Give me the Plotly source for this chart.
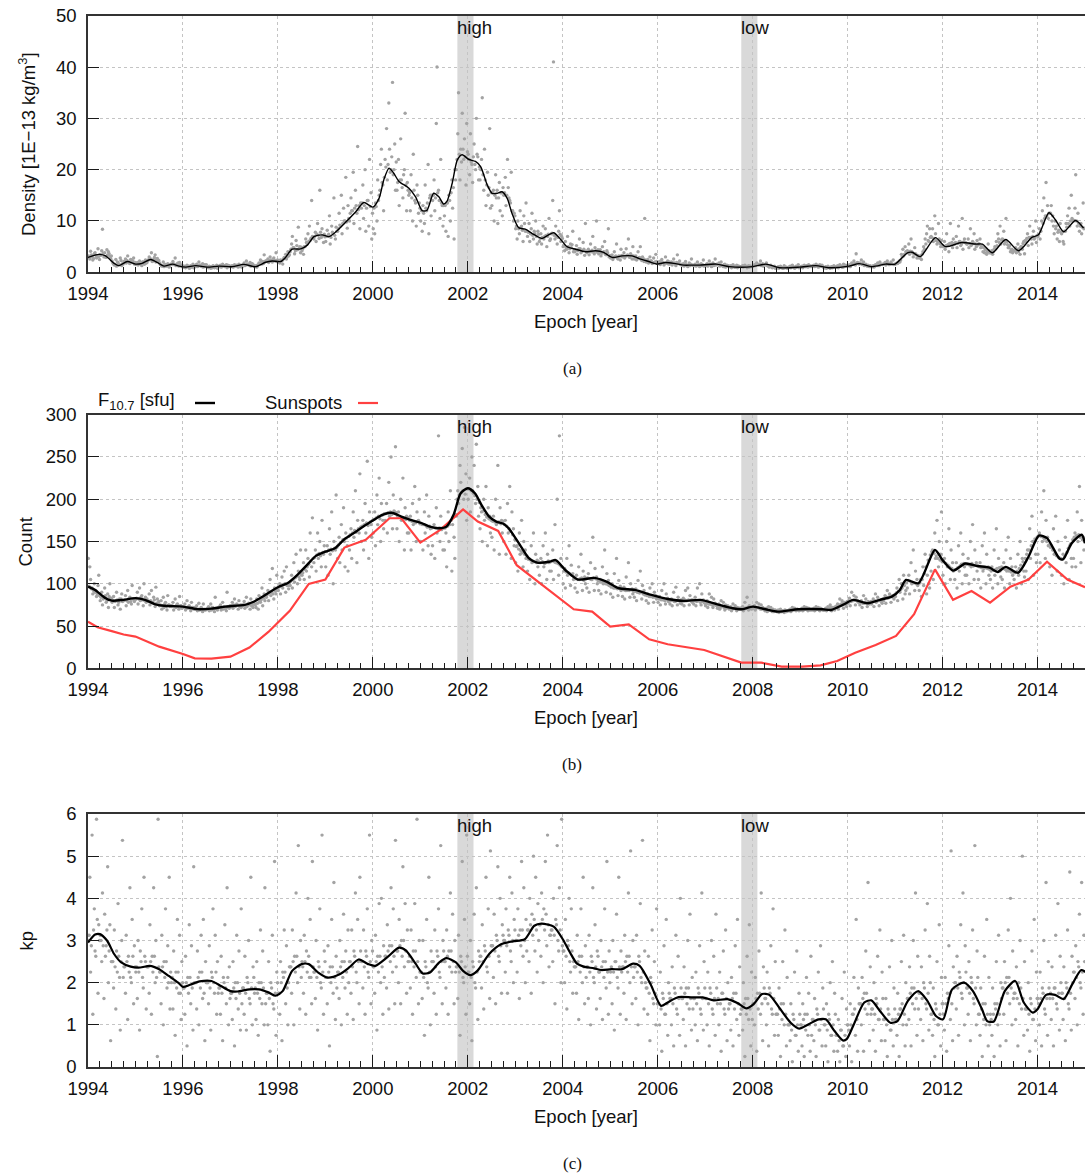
import plotly.graph_objects as go

# ---------------------------------------------------------------------------
# Data
# ---------------------------------------------------------------------------
EPOCH_START = 1994.0
EPOCH_END = 2015.0
BLOCK = 0.25  # years covered by each row of daily samples below
# day slot (of 16 per block) taken by each sample of a row
SLOT_ORDER = [0, 2, 3, 5, 6, 8, 10, 11, 13, 14, 1, 4, 7, 9, 12, 15]

# Daily thermospheric density [1E-13 kg/m^3], one row per quarter year
density_daily = [
    [3.2, 2.6, 4.1, 3.0, 2.4, 3.6, 3.3, 2.8, 4.6, 3.1, 2.9, 3.4, 2.7, 3.8, 3.1, 2.5],
    [3.5, 4.2, 8.4, 3.0, 3.8, 2.9, 3.4, 4.0, 3.1, 2.7, 3.3, 3.7, 3.0, 4.4, 3.6, 3.2],
    [2.2, 1.6, 1.4, 2.5, 1.2, 1.9, 1.5, 2.8, 1.3, 1.7, 1.8, 1.5, 2.0, 1.4, 2.3, 1.6],
    [2.1, 2.6, 1.8, 3.2, 2.0, 1.7, 2.4, 1.9, 2.8, 1.6, 2.0, 2.3, 1.8, 2.5, 2.2, 1.9],
    [1.5, 1.9, 1.4, 2.2, 1.7, 1.3, 2.0, 1.6, 2.4, 1.8, 1.7, 1.8, 1.5, 2.0, 1.6, 1.9],
    [2.3, 3.0, 2.6, 3.8, 2.1, 2.5, 3.4, 2.0, 2.7, 2.2, 2.4, 2.6, 2.2, 2.9, 2.5, 2.3],
    [1.8, 1.4, 1.2, 2.0, 1.1, 1.5, 1.3, 1.7, 1.0, 1.4, 1.5, 1.3, 1.6, 1.2, 1.4, 1.6],
    [1.6, 2.1, 1.5, 2.8, 1.3, 1.7, 1.2, 1.9, 1.4, 1.1, 1.5, 1.6, 1.4, 1.8, 1.5, 1.3],
    [1.0, 1.2, 0.9, 1.4, 1.1, 0.8, 1.3, 1.0, 1.6, 0.9, 1.0, 1.1, 1.2, 0.9, 1.1, 1.0],
    [1.3, 1.6, 1.1, 2.0, 1.4, 1.2, 1.7, 1.0, 1.5, 1.2, 1.3, 1.2, 1.4, 1.1, 1.3, 1.5],
    [1.0, 0.9, 1.2, 0.8, 1.1, 1.3, 0.9, 1.0, 1.4, 0.8, 1.0, 1.1, 0.9, 1.2, 1.0, 1.1],
    [1.2, 1.4, 1.0, 1.6, 1.3, 1.1, 1.5, 0.9, 1.2, 1.3, 1.2, 1.1, 1.3, 1.2, 1.4, 1.1],
    [1.1, 1.3, 1.0, 1.5, 1.2, 1.4, 1.0, 1.6, 1.3, 1.1, 1.2, 1.1, 1.3, 1.2, 1.4, 1.0],
    [1.5, 1.8, 1.3, 2.2, 1.6, 1.4, 1.9, 1.2, 1.7, 1.5, 1.5, 1.4, 1.6, 1.5, 1.7, 1.3],
    [1.1, 1.3, 1.0, 1.5, 1.8, 2.4, 1.6, 2.1, 3.4, 2.0, 1.2, 1.4, 1.6, 1.9, 1.7, 2.2],
    [2.2, 2.6, 1.9, 3.0, 2.4, 2.0, 2.8, 2.3, 3.8, 2.1, 2.2, 2.3, 2.1, 2.5, 2.2, 2.4],
    [2.0, 1.8, 2.4, 2.2, 1.6, 2.9, 3.5, 2.6, 4.0, 3.2, 2.1, 2.3, 2.6, 2.8, 3.0, 3.4],
    [4.0, 5.5, 7.0, 4.8, 3.6, 6.2, 4.4, 8.8, 5.0, 3.8, 4.5, 4.8, 4.2, 5.2, 4.6, 4.9],
    [4.2, 3.5, 5.0, 6.5, 5.8, 7.5, 9.0, 6.2, 14.0, 7.0, 4.6, 5.0, 5.5, 6.0, 6.6, 6.9],
    [6.5, 7.8, 6.0, 9.5, 7.2, 16.0, 6.8, 8.5, 5.8, 7.4, 7.0, 7.4, 6.6, 7.8, 7.1, 6.9],
    [6.0, 8.2, 7.0, 11.0, 5.5, 9.0, 7.5, 14.5, 6.5, 8.8, 7.0, 7.4, 6.8, 7.8, 7.2, 8.0],
    [8.0, 11.5, 9.2, 15.0, 7.5, 12.5, 10.0, 18.5, 8.6, 13.0, 8.5, 9.0, 9.5, 10.0, 9.8, 10.5],
    [10.0, 14.5, 12.0, 19.5, 9.5, 16.0, 11.5, 24.5, 13.0, 8.5, 11.5, 12.0, 12.5, 13.0, 12.2, 13.5],
    [12.5, 17.0, 10.5, 20.0, 8.0, 14.0, 9.0, 22.0, 15.5, 6.5, 13.5, 13.0, 12.5, 14.0, 12.8, 11.5],
    [8.5, 7.5, 13.5, 10.0, 18.0, 15.0, 21.0, 24.0, 17.0, 12.0, 12.5, 12.8, 14.0, 16.0, 17.5, 18.5],
    [22.0, 28.0, 18.0, 33.0, 24.0, 20.0, 37.0, 19.0, 25.0, 16.0, 20.5, 21.0, 19.5, 22.5, 20.0, 21.5],
    [16.0, 22.0, 13.0, 26.0, 18.0, 14.5, 20.0, 31.0, 12.0, 17.5, 17.5, 18.0, 16.5, 19.0, 17.0, 16.0],
    [15.0, 12.0, 19.0, 10.0, 23.0, 14.0, 9.0, 17.0, 11.5, 13.5, 15.5, 14.5, 16.0, 13.5, 15.0, 12.5],
    [10.0, 8.0, 13.0, 9.5, 17.0, 12.0, 21.0, 7.5, 15.0, 11.0, 12.0, 11.5, 12.5, 13.5, 14.5, 15.0],
    [14.0, 18.0, 12.0, 29.0, 40.0, 16.0, 10.5, 22.0, 13.0, 9.0, 15.0, 14.5, 15.5, 14.0, 13.5, 13.0],
    [11.0, 8.0, 13.5, 7.0, 15.0, 10.0, 18.0, 12.5, 6.5, 20.0, 13.0, 13.5, 14.0, 15.5, 16.5, 18.0],
    [20.0, 27.0, 35.0, 18.0, 24.0, 31.0, 22.0, 26.0, 17.0, 29.0, 22.0, 23.0, 21.5, 24.0, 22.5, 23.5],
    [23.0, 19.0, 27.0, 21.0, 17.5, 25.0, 20.0, 30.0, 22.5, 18.0, 22.0, 21.5, 22.5, 21.0, 23.0, 20.5],
    [18.0, 22.0, 34.0, 16.0, 24.0, 13.0, 19.5, 15.0, 28.0, 12.5, 20.0, 19.0, 18.0, 17.0, 16.5, 15.5],
    [13.0, 16.0, 10.0, 19.0, 14.5, 9.5, 17.5, 12.0, 15.5, 11.0, 15.5, 15.0, 16.0, 14.5, 15.5, 16.5],
    [15.0, 18.5, 13.0, 22.0, 16.5, 14.0, 19.5, 12.0, 10.0, 11.5, 15.5, 15.0, 14.5, 13.5, 12.0, 11.0],
    [8.5, 6.5, 10.0, 7.5, 12.0, 9.0, 6.0, 11.0, 8.0, 13.5, 9.0, 8.5, 8.8, 8.2, 9.5, 8.0],
    [7.0, 9.5, 6.0, 8.5, 11.5, 6.5, 7.5, 10.0, 5.5, 8.0, 7.8, 7.5, 7.2, 8.0, 7.0, 7.4],
    [6.0, 7.5, 5.5, 9.0, 6.5, 8.5, 5.0, 7.0, 10.5, 6.2, 6.6, 6.8, 7.0, 7.2, 7.4, 6.5],
    [7.5, 14.0, 41.0, 6.5, 9.0, 5.5, 8.0, 12.0, 6.0, 7.0, 7.6, 7.2, 7.0, 6.8, 7.4, 6.6],
    [5.0, 4.2, 6.0, 4.5, 7.0, 3.8, 5.5, 4.8, 8.0, 4.0, 5.2, 4.8, 5.0, 4.6, 5.4, 4.4],
    [4.0, 5.2, 3.5, 4.6, 6.5, 3.8, 4.2, 5.8, 3.3, 9.5, 4.4, 4.2, 4.6, 4.0, 4.5, 4.1],
    [3.8, 4.5, 3.4, 5.5, 4.0, 7.0, 3.6, 4.8, 10.0, 3.9, 4.1, 4.0, 4.3, 3.9, 4.2, 4.4],
    [3.6, 4.4, 3.2, 5.0, 3.9, 6.0, 3.4, 4.2, 8.5, 3.0, 3.9, 3.7, 4.0, 3.5, 3.8, 3.3],
    [2.8, 3.4, 2.5, 4.0, 3.0, 5.5, 2.6, 3.2, 2.4, 4.5, 3.0, 2.9, 3.2, 2.8, 3.1, 3.3],
    [3.0, 3.8, 2.8, 4.6, 3.3, 6.5, 2.9, 3.6, 2.6, 5.0, 3.2, 3.1, 3.4, 3.0, 3.3, 3.2],
    [2.6, 3.2, 2.4, 4.0, 2.8, 5.0, 2.3, 3.0, 2.1, 10.5, 2.8, 2.6, 2.9, 2.5, 2.7, 2.4],
    [2.0, 2.5, 1.8, 3.0, 2.2, 1.7, 2.8, 1.9, 3.5, 2.1, 2.1, 1.9, 2.2, 1.8, 2.0, 1.7],
    [1.7, 2.1, 1.5, 2.5, 1.9, 1.4, 3.0, 1.8, 2.2, 1.6, 1.7, 1.8, 1.9, 1.7, 1.8, 2.0],
    [1.6, 2.0, 1.4, 2.6, 1.8, 1.3, 3.4, 1.7, 2.2, 1.5, 1.7, 1.8, 1.6, 1.9, 1.7, 1.6],
    [1.4, 1.7, 1.2, 2.1, 1.5, 1.1, 1.8, 1.3, 2.6, 1.4, 1.4, 1.5, 1.3, 1.4, 1.6, 1.4],
    [1.3, 1.6, 1.2, 2.0, 1.4, 1.1, 1.7, 1.3, 2.4, 1.2, 1.4, 1.3, 1.5, 1.4, 1.5, 1.3],
    [1.4, 1.7, 1.2, 2.2, 1.5, 1.1, 1.8, 1.3, 2.6, 1.4, 1.5, 1.4, 1.6, 1.5, 1.4, 1.6],
    [1.5, 1.8, 1.2, 2.0, 1.3, 1.1, 1.6, 1.0, 1.4, 1.2, 1.5, 1.4, 1.3, 1.5, 1.2, 1.3],
    [1.1, 1.3, 0.9, 1.5, 1.2, 1.0, 1.4, 0.9, 1.2, 1.1, 1.1, 1.2, 1.0, 1.1, 1.2, 1.1],
    [1.1, 1.3, 1.0, 1.4, 1.2, 0.9, 1.3, 1.0, 1.2, 1.1, 1.1, 1.2, 1.1, 1.0, 1.2, 1.1],
    [1.2, 1.5, 1.3, 1.8, 1.6, 1.4, 2.2, 1.3, 1.7, 1.2, 1.3, 1.4, 1.5, 1.6, 1.5, 1.4],
    [1.5, 1.8, 1.3, 1.2, 1.0, 1.4, 0.9, 1.1, 1.2, 0.8, 1.5, 1.4, 1.2, 1.1, 1.0, 0.9],
    [0.9, 1.1, 0.8, 1.2, 1.0, 0.8, 1.3, 0.9, 1.0, 0.8, 0.9, 1.0, 0.9, 0.8, 1.0, 0.9],
    [1.0, 1.2, 0.9, 1.4, 1.1, 0.8, 1.2, 1.0, 1.5, 0.9, 1.0, 1.1, 1.0, 0.9, 1.1, 1.0],
    [1.0, 1.2, 0.9, 1.4, 1.1, 1.3, 1.0, 1.5, 1.2, 1.1, 1.1, 1.2, 1.1, 1.2, 1.3, 1.2],
    [1.2, 1.4, 1.1, 1.6, 1.3, 1.0, 1.5, 1.2, 1.4, 1.1, 1.3, 1.2, 1.3, 1.1, 1.2, 1.0],
    [0.9, 1.1, 0.8, 1.2, 1.0, 0.8, 1.1, 0.9, 1.3, 1.0, 0.9, 1.0, 0.9, 1.0, 1.1, 1.0],
    [1.0, 1.3, 0.9, 1.5, 1.2, 1.0, 1.6, 1.1, 1.4, 1.2, 1.1, 1.1, 1.2, 1.0, 1.2, 1.2],
    [1.2, 1.5, 1.1, 1.8, 1.6, 2.2, 1.4, 3.6, 1.9, 1.7, 1.3, 1.4, 1.6, 1.7, 1.8, 1.6],
    [1.8, 2.4, 1.5, 2.0, 1.3, 1.6, 1.2, 1.4, 1.1, 1.3, 1.7, 1.6, 1.4, 1.3, 1.2, 1.1],
    [1.1, 1.3, 1.0, 1.5, 1.4, 1.8, 1.3, 2.0, 1.6, 1.5, 1.1, 1.2, 1.3, 1.4, 1.5, 1.6],
    [1.6, 1.9, 1.4, 2.2, 1.7, 1.5, 2.0, 1.6, 2.4, 1.5, 1.6, 1.7, 1.5, 1.7, 1.6, 1.6],
    [1.6, 1.8, 1.7, 2.2, 2.0, 3.5, 4.5, 3.2, 5.0, 4.0, 1.7, 1.9, 2.4, 3.0, 3.5, 3.8],
    [4.2, 5.5, 3.5, 6.5, 4.0, 3.0, 4.8, 3.6, 2.8, 3.3, 3.9, 4.1, 3.8, 3.6, 3.4, 3.2],
    [2.8, 3.2, 2.5, 4.0, 5.0, 6.5, 7.5, 9.0, 6.0, 8.5, 3.0, 3.5, 4.5, 5.5, 6.2, 6.8],
    [7.0, 8.5, 6.0, 11.0, 7.5, 5.5, 9.5, 6.5, 5.0, 6.2, 6.8, 6.6, 6.2, 6.0, 5.6, 5.3],
    [5.0, 6.0, 4.5, 7.5, 5.3, 4.0, 9.5, 5.5, 4.8, 6.5, 5.0, 5.2, 5.4, 5.6, 5.8, 5.6],
    [5.5, 7.0, 4.8, 9.0, 6.0, 5.2, 10.5, 4.5, 6.5, 5.8, 5.8, 5.6, 6.0, 5.5, 5.9, 5.7],
    [5.5, 6.5, 4.8, 8.5, 5.2, 6.0, 7.5, 4.5, 5.0, 6.2, 5.5, 5.6, 5.4, 5.7, 5.5, 5.3],
    [5.5, 6.5, 4.8, 5.0, 4.0, 3.8, 4.5, 3.5, 5.5, 4.2, 5.5, 5.2, 4.8, 4.4, 4.0, 3.8],
    [3.8, 4.2, 3.5, 4.5, 5.0, 6.0, 7.5, 6.5, 9.0, 5.5, 3.8, 4.0, 4.6, 5.2, 5.8, 6.3],
    [6.5, 8.0, 5.5, 10.5, 6.0, 4.8, 5.2, 4.0, 4.5, 3.8, 6.4, 6.0, 5.4, 4.8, 4.4, 4.2],
    [4.2, 4.8, 3.8, 5.5, 4.0, 3.5, 5.0, 4.5, 6.0, 3.6, 4.2, 4.4, 4.6, 5.0, 5.6, 6.2],
    [6.0, 7.5, 5.2, 9.0, 6.8, 5.5, 8.0, 6.5, 10.0, 5.8, 6.6, 6.8, 6.5, 7.0, 6.7, 7.2],
    [7.0, 8.5, 6.5, 10.0, 12.0, 14.5, 11.0, 17.5, 13.0, 10.5, 7.4, 8.0, 9.5, 10.5, 11.0, 11.5],
    [11.5, 13.0, 10.0, 9.0, 7.5, 8.5, 6.5, 7.8, 6.0, 9.5, 11.5, 11.0, 10.0, 9.0, 8.2, 7.8],
    [7.5, 6.0, 5.5, 8.0, 9.5, 11.0, 12.5, 9.0, 15.0, 10.5, 7.9, 8.0, 8.8, 9.5, 10.0, 10.2],
    [10.0, 12.5, 19.0, 9.0, 11.5, 8.0, 9.5, 7.5, 13.5, 8.5, 10.1, 10.0, 9.5, 9.0, 8.8, 8.6],
]

# Smoothed density
density_epoch = [
    1994.0, 1994.23, 1994.37, 1994.55, 1994.65, 1994.83, 1995.0, 1995.14, 1995.32, 1995.49,
    1995.6, 1995.78, 1995.92, 1996.06, 1996.27, 1996.51, 1996.76, 1997.04, 1997.28, 1997.53,
    1997.74, 1997.88, 1998.06, 1998.16, 1998.3, 1998.48, 1998.62, 1998.76, 1998.93, 1999.07,
    1999.21, 1999.42, 1999.64, 1999.81, 2000.0, 2000.13, 2000.23, 2000.34, 2000.44, 2000.55,
    2000.76, 2000.9, 2001.04, 2001.14, 2001.28, 2001.39, 2001.49, 2001.56, 2001.67, 2001.78,
    2001.88, 2002.02, 2002.16, 2002.27, 2002.41, 2002.51, 2002.62, 2002.72, 2002.83, 2002.93,
    2003.07, 2003.21, 2003.35, 2003.56, 2003.7, 2003.81, 2003.92, 2004.09, 2004.27, 2004.48,
    2004.69, 2004.86, 2005.04, 2005.25, 2005.46, 2005.6, 2005.81, 2005.99, 2006.16, 2006.34,
    2006.55, 2006.72, 2006.88, 2007.23, 2007.51, 2008.0, 2008.28, 2008.56, 2008.98, 2009.33,
    2009.6, 2010.03, 2010.24, 2010.52, 2010.8, 2011.0, 2011.26, 2011.36, 2011.53, 2011.85,
    2012.06, 2012.4, 2012.7, 2012.84, 2013.05, 2013.33, 2013.6, 2013.88, 2014.02, 2014.24,
    2014.38, 2014.55, 2014.8, 2014.97,
]
density_smooth = [
    2.9, 3.5, 3.2, 1.75, 1.3, 2.1, 1.6, 1.75, 2.5, 1.75,
    1.2, 1.6, 1.2, 1.0, 1.3, 1.0, 1.2, 1.1, 1.55, 1.1,
    1.95, 2.2, 2.1, 2.9, 4.5, 4.55, 5.3, 6.95, 7.3, 6.95,
    7.8, 9.7, 11.8, 13.6, 12.7, 14.4, 18.0, 20.3, 19.3, 17.7,
    16.4, 14.7, 12.0, 12.1, 15.4, 14.7, 13.3, 13.8, 17.3, 21.9,
    22.9, 22.0, 21.6, 20.6, 17.0, 15.4, 15.4, 15.7, 14.4, 11.5,
    8.7, 8.4, 7.6, 6.6, 7.3, 7.7, 6.8, 5.0, 4.5, 4.0,
    4.2, 3.9, 2.9, 3.2, 3.2, 2.7, 2.1, 1.6, 1.9, 1.75,
    1.4, 1.4, 1.4, 1.6, 1.1, 1.1, 1.6, 0.9, 1.0, 1.3,
    0.9, 1.2, 1.7, 1.1, 1.6, 1.6, 3.8, 3.9, 3.05, 6.75,
    5.0, 5.8, 5.5, 5.5, 3.8, 6.4, 4.2, 6.8, 7.3, 11.6,
    10.2, 7.9, 10.1, 8.6,
]

# Daily F10.7 solar flux [sfu], one row per quarter year
f107_daily = [
    [130, 120, 105, 95, 88, 100, 92, 85, 98, 110, 97, 94, 92, 90, 88, 86],
    [80, 90, 75, 85, 95, 78, 88, 72, 100, 82, 84, 82, 86, 80, 85, 83],
    [78, 85, 72, 80, 90, 75, 82, 70, 88, 79, 80, 79, 81, 78, 82, 80],
    [80, 86, 74, 92, 78, 84, 76, 98, 82, 79, 81, 80, 83, 79, 82, 81],
    [82, 90, 76, 95, 80, 86, 74, 100, 84, 78, 83, 82, 84, 81, 80, 82],
    [80, 88, 75, 92, 78, 84, 73, 96, 82, 77, 79, 80, 78, 81, 77, 79],
    [74, 80, 70, 84, 72, 78, 69, 86, 75, 73, 75, 74, 76, 73, 75, 74],
    [73, 78, 69, 82, 72, 76, 70, 85, 74, 71, 74, 73, 75, 73, 74, 72],
    [72, 76, 69, 80, 71, 74, 68, 78, 72, 70, 73, 72, 73, 71, 72, 72],
    [70, 74, 68, 77, 69, 72, 67, 76, 70, 69, 71, 70, 70, 71, 69, 70],
    [70, 73, 68, 76, 69, 72, 67, 84, 71, 69, 71, 70, 72, 70, 71, 72],
    [72, 75, 69, 78, 70, 73, 68, 90, 72, 71, 73, 72, 73, 71, 73, 74],
    [74, 78, 71, 82, 73, 76, 70, 80, 75, 72, 74, 75, 74, 75, 73, 75],
    [74, 79, 71, 84, 73, 77, 70, 82, 75, 72, 75, 74, 76, 75, 74, 77],
    [76, 72, 82, 70, 86, 78, 95, 74, 88, 80, 75, 77, 79, 81, 83, 85],
    [84, 92, 80, 105, 86, 118, 82, 95, 88, 110, 87, 89, 90, 88, 91, 93],
    [92, 100, 88, 108, 95, 115, 90, 120, 98, 94, 96, 97, 99, 100, 98, 101],
    [98, 110, 95, 125, 102, 135, 100, 115, 105, 140, 103, 105, 107, 109, 108, 111],
    [110, 125, 105, 140, 115, 130, 108, 160, 120, 178, 113, 117, 120, 123, 127, 130],
    [125, 140, 115, 160, 130, 150, 120, 175, 135, 145, 131, 134, 136, 133, 137, 138],
    [120, 145, 110, 165, 135, 185, 100, 150, 140, 205, 138, 140, 141, 139, 142, 143],
    [130, 155, 125, 170, 140, 190, 120, 160, 145, 115, 146, 149, 152, 150, 154, 156],
    [140, 165, 130, 185, 155, 210, 125, 175, 160, 230, 158, 160, 163, 161, 165, 167],
    [150, 175, 140, 195, 160, 245, 130, 185, 170, 155, 168, 170, 172, 169, 173, 175],
    [160, 185, 145, 205, 170, 225, 150, 195, 175, 165, 176, 178, 180, 177, 181, 183],
    [175, 195, 160, 220, 180, 250, 165, 205, 185, 262, 183, 184, 185, 182, 186, 184],
    [165, 185, 150, 200, 175, 225, 140, 190, 180, 160, 180, 179, 178, 177, 176, 178],
    [160, 180, 140, 195, 170, 215, 150, 185, 175, 200, 175, 174, 173, 172, 174, 171],
    [150, 170, 140, 185, 160, 205, 145, 180, 165, 135, 171, 170, 169, 167, 168, 166],
    [145, 170, 130, 190, 160, 275, 150, 180, 165, 140, 167, 166, 165, 166, 164, 166],
    [140, 160, 120, 185, 150, 210, 115, 170, 155, 130, 166, 168, 170, 175, 179, 182],
    [180, 210, 195, 240, 220, 260, 200, 285, 230, 175, 200, 205, 208, 210, 206, 212],
    [200, 225, 185, 250, 210, 240, 195, 265, 215, 180, 212, 210, 207, 204, 200, 196],
    [165, 185, 150, 200, 175, 215, 145, 190, 180, 160, 190, 186, 182, 179, 177, 175],
    [155, 180, 140, 200, 170, 240, 135, 190, 175, 160, 174, 173, 172, 173, 171, 174],
    [150, 175, 135, 195, 160, 215, 130, 185, 165, 145, 170, 168, 165, 162, 158, 152],
    [125, 145, 115, 160, 135, 175, 120, 150, 140, 130, 144, 141, 139, 137, 135, 133],
    [115, 130, 105, 145, 125, 160, 100, 135, 128, 120, 129, 128, 127, 126, 125, 126],
    [110, 130, 100, 145, 120, 160, 105, 135, 125, 115, 125, 126, 124, 125, 127, 126],
    [115, 140, 105, 170, 125, 200, 110, 275, 130, 120, 127, 126, 125, 124, 122, 120],
    [100, 118, 95, 130, 110, 145, 98, 122, 112, 105, 115, 114, 113, 112, 110, 108],
    [95, 110, 90, 120, 105, 135, 92, 115, 108, 100, 106, 105, 106, 107, 104, 106],
    [95, 112, 90, 125, 105, 155, 92, 118, 108, 100, 107, 106, 105, 107, 106, 104],
    [92, 105, 88, 120, 100, 140, 90, 112, 104, 98, 103, 102, 101, 100, 99, 98],
    [88, 100, 84, 112, 95, 130, 86, 104, 97, 92, 96, 95, 96, 94, 95, 94],
    [85, 96, 82, 108, 92, 125, 84, 100, 94, 88, 93, 92, 93, 92, 93, 91],
    [84, 94, 80, 104, 90, 115, 82, 98, 92, 87, 91, 90, 89, 90, 88, 87],
    [80, 88, 77, 95, 85, 100, 78, 90, 86, 82, 86, 85, 86, 84, 84, 83],
    [78, 85, 75, 92, 81, 100, 76, 88, 83, 79, 82, 81, 82, 80, 81, 80],
    [76, 82, 74, 90, 79, 96, 75, 84, 80, 77, 80, 80, 79, 80, 80, 81],
    [76, 83, 74, 92, 80, 95, 75, 86, 81, 78, 80, 81, 80, 81, 80, 81],
    [76, 84, 74, 95, 80, 100, 75, 88, 81, 78, 80, 79, 80, 78, 79, 77],
    [74, 80, 72, 88, 76, 84, 72, 82, 77, 75, 77, 76, 76, 75, 75, 74],
    [71, 76, 70, 80, 73, 78, 69, 75, 72, 74, 73, 72, 73, 72, 71, 72],
    [70, 73, 68, 76, 71, 74, 68, 72, 70, 71, 71, 70, 71, 70, 70, 71],
    [70, 73, 68, 78, 71, 84, 69, 74, 72, 70, 71, 70, 71, 72, 72, 73],
    [71, 74, 69, 78, 72, 76, 70, 75, 72, 71, 72, 71, 72, 71, 70, 70],
    [68, 71, 67, 73, 69, 72, 67, 70, 68, 69, 69, 68, 69, 68, 67, 68],
    [67, 69, 66, 70, 67, 68, 66, 69, 67, 68, 67, 68, 67, 68, 67, 68],
    [68, 70, 67, 72, 69, 71, 68, 70, 69, 68, 69, 69, 70, 69, 70, 69],
    [69, 71, 68, 73, 70, 72, 68, 71, 70, 69, 70, 69, 70, 70, 69, 70],
    [69, 71, 68, 73, 70, 72, 68, 71, 70, 69, 70, 69, 70, 69, 70, 69],
    [69, 71, 68, 73, 70, 75, 68, 72, 70, 69, 69, 70, 71, 72, 72, 73],
    [72, 76, 70, 82, 74, 80, 71, 78, 75, 73, 74, 75, 76, 77, 78, 79],
    [77, 83, 74, 90, 80, 86, 75, 84, 80, 78, 80, 79, 80, 81, 80, 79],
    [75, 80, 72, 86, 77, 82, 73, 79, 76, 78, 78, 77, 78, 77, 78, 79],
    [76, 82, 73, 88, 78, 84, 74, 80, 79, 77, 79, 80, 79, 81, 81, 82],
    [80, 86, 77, 92, 83, 88, 78, 85, 84, 82, 83, 84, 84, 85, 86, 87],
    [85, 95, 80, 105, 90, 100, 82, 110, 88, 92, 89, 91, 93, 95, 98, 101],
    [95, 110, 88, 125, 100, 140, 92, 115, 105, 98, 104, 103, 102, 101, 100, 100],
    [92, 105, 85, 120, 98, 135, 88, 110, 100, 95, 101, 105, 112, 120, 128, 134],
    [115, 140, 105, 160, 130, 175, 120, 150, 135, 185, 138, 136, 133, 130, 128, 126],
    [110, 130, 100, 150, 120, 165, 105, 140, 125, 115, 126, 124, 122, 120, 118, 116],
    [105, 125, 95, 145, 115, 160, 100, 135, 120, 110, 117, 119, 121, 123, 124, 123],
    [110, 130, 100, 150, 120, 170, 105, 140, 125, 115, 123, 122, 124, 121, 122, 121],
    [105, 125, 95, 145, 115, 160, 100, 135, 120, 110, 120, 119, 118, 119, 118, 117],
    [105, 120, 95, 140, 110, 165, 100, 130, 115, 108, 115, 116, 117, 118, 119, 120],
    [105, 125, 95, 140, 115, 155, 100, 130, 120, 110, 118, 117, 116, 115, 114, 114],
    [105, 120, 95, 135, 110, 150, 100, 130, 115, 108, 113, 115, 118, 122, 126, 130],
    [115, 140, 105, 165, 130, 180, 110, 150, 135, 125, 135, 140, 145, 150, 153, 155],
    [135, 160, 125, 185, 150, 210, 130, 175, 155, 145, 157, 156, 155, 153, 150, 146],
    [120, 145, 110, 165, 135, 180, 115, 150, 140, 130, 143, 140, 136, 133, 131, 130],
    [110, 135, 100, 155, 125, 175, 105, 145, 130, 120, 129, 132, 137, 142, 147, 152],
    [130, 160, 120, 185, 150, 215, 125, 175, 155, 140, 155, 157, 158, 155, 152, 150],
]

# Smoothed F10.7
f107_epoch = [
    1994.0, 1994.15, 1994.35, 1994.5, 1994.75, 1995.0, 1995.2, 1995.4, 1995.6, 1996.0,
    1996.3, 1996.6, 1996.9, 1997.3, 1997.5, 1997.7, 1998.0, 1998.2, 1998.4, 1998.6,
    1998.8, 1999.0, 1999.2, 1999.4, 1999.6, 1999.8, 2000.0, 2000.2, 2000.4, 2000.6,
    2000.8, 2001.0, 2001.2, 2001.4, 2001.55, 2001.7, 2001.85, 2002.0, 2002.15, 2002.3,
    2002.45, 2002.6, 2002.75, 2002.86, 2003.12, 2003.29, 2003.46, 2003.72, 2003.85, 2004.06,
    2004.32, 2004.66, 2004.92, 2005.18, 2005.52, 2005.87, 2006.21, 2006.55, 2006.9, 2007.24,
    2007.58, 2007.76, 2008.01, 2008.27, 2008.53, 2008.96, 2009.47, 2009.65, 2009.9, 2010.12,
    2010.42, 2010.68, 2010.93, 2011.1, 2011.23, 2011.49, 2011.84, 2012.0, 2012.22, 2012.48,
    2012.74, 2012.99, 2013.16, 2013.33, 2013.59, 2013.81, 2014.03, 2014.2, 2014.46, 2014.54,
    2014.72, 2014.93, 2015.0,
]
f107_smooth = [
    96.6, 92.7, 83.6, 80, 81, 83, 81, 76, 74, 73,
    70, 70.6, 73, 75, 79, 85.6, 95.9, 100.6, 110, 121.5,
    133, 138, 142, 152.7, 160, 167.7, 174.8, 181.5, 184, 179.5,
    175.5, 172.4, 167.6, 165.7, 167.6, 181.5, 207, 213, 207, 192,
    179.5, 173.6, 171, 165.7, 144, 130, 125, 126, 128, 116,
    105, 107, 102.6, 94.7, 92.7, 86.8, 82, 79.7, 80.9, 76,
    71, 69.8, 73, 69.8, 67, 69.8, 69.8, 69, 75, 80.9,
    77, 81, 84.8, 92.7, 104.5, 100.6, 140, 128, 115.6, 124,
    121, 119, 114, 120, 113, 132, 157, 154, 130, 129,
    148, 158, 148,
]

# Sunspot number
sunspot_epoch = [
    1994.0, 1994.2, 1994.5, 1994.75, 1995.0, 1995.5, 1996.0, 1996.25, 1996.6, 1997.0,
    1997.4, 1997.8, 1998.25, 1998.65, 1999.0, 1999.4, 1999.85, 2000.35, 2000.6, 2001.0,
    2001.42, 2001.9, 2002.21, 2002.64, 2003.03, 2004.23, 2004.62, 2005.0, 2005.39, 2005.82,
    2006.21, 2006.98, 2007.76, 2008.18, 2008.61, 2009.04, 2009.43, 2009.78, 2010.16, 2010.59,
    2011.02, 2011.4, 2011.84, 2012.22, 2012.61, 2013.0, 2013.43, 2013.81, 2014.2, 2014.63,
    2015.0,
]
sunspot_count = [
    55.2, 48.5, 44, 40, 37.5, 25.6, 17, 11.8, 11.4, 13.8,
    24.5, 43, 68, 99.8, 105, 142.8, 152, 177.5, 177.5, 148.7,
    163.7, 188, 173.6, 162.5, 122, 69.8, 67, 49.3, 52, 34.3,
    28.4, 21.7, 6.7, 6.7, 2, 2, 3.5, 8.7, 18.5, 27.6,
    38.3, 64, 117, 81, 91.5, 77.7, 96.6, 105, 126, 105,
    96,
]

# Daily mean kp index, one row per quarter year
kp_daily = [
    [3.0, 4.5, 2.25, 5.5, 1.25, 3.75, 2.625, 5.875, 1.75, 3.375, 3.125, 2.875, 3.25, 2.75, 3.5, 3.0],
    [3.125, 2.5, 4.125, 1.625, 3.625, 2.875, 4.75, 2.0, 3.375, 0.625, 3.0, 2.875, 2.625, 3.25, 2.75, 2.5],
    [2.5, 1.875, 3.25, 1.375, 2.75, 3.875, 2.125, 0.875, 3.0, 5.375, 2.5, 2.375, 2.25, 2.625, 2.5, 2.125],
    [2.375, 1.75, 3.125, 1.125, 2.625, 4.25, 2.0, 3.5, 1.5, 2.875, 2.375, 2.5, 2.25, 2.125, 2.625, 2.375],
    [2.25, 1.625, 3.0, 0.875, 2.75, 3.75, 1.875, 4.5, 2.5, 1.375, 2.375, 2.25, 2.5, 2.125, 2.625, 2.375],
    [2.375, 1.75, 3.375, 1.25, 2.625, 4.25, 2.0, 3.0, 0.25, 5.875, 2.375, 2.5, 2.25, 2.625, 2.125, 2.375],
    [2.25, 1.5, 3.125, 1.0, 2.5, 3.75, 1.875, 2.875, 4.5, 1.375, 2.25, 2.375, 2.125, 2.5, 2.0, 2.25],
    [2.0, 1.375, 2.75, 0.75, 2.25, 3.5, 1.75, 3.125, 1.125, 2.5, 2.125, 2.0, 1.875, 2.25, 1.75, 2.0],
    [1.875, 1.25, 2.625, 0.5, 2.125, 3.375, 1.5, 2.875, 0.875, 4.75, 1.875, 2.0, 1.75, 2.125, 1.875, 2.0],
    [2.0, 1.375, 2.75, 1.0, 2.25, 3.125, 1.625, 3.5, 0.625, 2.5, 2.0, 2.125, 1.875, 2.25, 1.75, 2.0],
    [2.0, 1.5, 2.875, 0.875, 2.25, 3.75, 1.75, 3.125, 1.25, 2.5, 2.0, 1.875, 2.125, 2.0, 2.25, 1.75],
    [1.875, 1.25, 2.625, 0.625, 2.125, 3.375, 1.5, 4.25, 1.0, 2.375, 1.875, 1.75, 2.0, 1.875, 2.125, 1.625],
    [1.75, 1.125, 2.5, 0.5, 2.0, 3.125, 1.375, 2.75, 0.875, 3.75, 1.75, 1.875, 1.625, 2.0, 1.75, 1.5],
    [1.875, 1.25, 2.625, 0.875, 2.125, 3.0, 1.5, 4.5, 1.0, 2.375, 1.875, 1.75, 2.0, 1.625, 1.875, 2.125],
    [1.75, 1.125, 2.5, 0.75, 2.0, 3.25, 1.5, 2.75, 1.0, 4.25, 1.875, 1.75, 1.625, 2.0, 1.875, 1.5],
    [1.75, 1.0, 2.5, 0.375, 2.0, 3.125, 1.375, 4.875, 0.75, 2.25, 1.75, 1.625, 1.875, 1.5, 1.75, 2.0],
    [1.75, 1.25, 2.5, 0.625, 2.25, 3.25, 1.5, 2.875, 1.0, 2.0, 1.75, 2.0, 2.125, 2.25, 1.875, 2.375],
    [2.375, 1.75, 3.25, 1.0, 2.625, 4.125, 2.0, 5.25, 1.375, 3.0, 2.375, 2.5, 2.25, 2.625, 2.375, 2.125],
    [2.5, 1.75, 3.125, 1.25, 2.75, 4.0, 2.125, 3.5, 1.5, 4.875, 2.375, 2.5, 2.25, 2.625, 2.125, 2.375],
    [2.25, 1.625, 3.0, 0.875, 2.5, 3.75, 1.875, 5.5, 1.25, 2.75, 2.25, 2.125, 2.375, 2.0, 2.25, 2.5],
    [2.125, 1.5, 2.875, 0.5, 2.375, 3.5, 1.75, 4.375, 1.125, 2.625, 2.125, 2.25, 2.0, 2.375, 2.125, 1.875],
    [2.25, 1.625, 3.0, 1.0, 2.5, 3.625, 1.875, 2.75, 1.25, 3.25, 2.25, 2.375, 2.125, 2.5, 2.25, 2.0],
    [2.5, 1.75, 3.25, 1.125, 2.75, 4.125, 2.0, 3.5, 1.5, 4.5, 2.5, 2.375, 2.625, 2.25, 2.5, 2.75],
    [2.5, 1.875, 3.25, 1.25, 2.75, 3.75, 2.125, 5.5, 1.5, 3.0, 2.5, 2.375, 2.625, 2.25, 2.5, 2.75],
    [2.375, 1.75, 3.125, 0.875, 2.625, 3.875, 2.0, 4.0, 1.25, 2.875, 2.375, 2.5, 2.25, 2.625, 2.375, 2.125],
    [2.625, 1.875, 3.375, 1.375, 2.875, 4.25, 2.25, 3.75, 1.5, 5.375, 2.625, 2.75, 2.5, 2.875, 2.625, 2.375],
    [2.75, 2.0, 3.5, 1.5, 3.0, 4.75, 2.375, 3.875, 1.75, 3.25, 2.75, 2.875, 2.625, 3.0, 2.75, 2.5],
    [2.5, 1.875, 3.25, 1.25, 2.75, 3.875, 2.125, 5.875, 1.5, 3.0, 2.625, 2.5, 2.375, 2.75, 2.5, 2.25],
    [2.25, 1.625, 3.0, 0.75, 2.5, 3.5, 1.875, 4.5, 1.0, 2.75, 2.25, 2.125, 2.375, 2.0, 2.25, 2.5],
    [2.5, 1.75, 3.25, 1.25, 2.75, 3.75, 2.125, 5.25, 1.5, 3.0, 2.5, 2.375, 2.625, 2.25, 2.5, 2.75],
    [2.5, 1.875, 3.25, 1.25, 2.75, 4.125, 2.25, 3.625, 1.5, 3.0, 2.5, 2.625, 2.375, 2.75, 2.5, 2.25],
    [2.375, 1.625, 3.125, 0.75, 2.625, 4.875, 2.0, 3.5, 1.25, 5.5, 2.375, 2.25, 2.5, 2.125, 2.375, 2.625],
    [2.25, 1.5, 3.0, 0.625, 2.5, 3.625, 1.875, 4.25, 1.125, 2.75, 2.25, 2.125, 2.375, 2.0, 2.25, 2.5],
    [2.625, 1.875, 3.375, 1.375, 2.875, 4.5, 2.25, 3.75, 1.625, 5.125, 2.625, 2.5, 2.75, 2.375, 2.625, 2.875],
    [2.875, 2.125, 3.625, 1.5, 3.125, 4.75, 2.5, 4.0, 1.75, 3.375, 2.875, 2.75, 3.0, 2.625, 2.875, 3.125],
    [3.0, 2.25, 3.75, 1.75, 3.25, 4.5, 2.5, 4.125, 2.0, 3.5, 3.0, 2.875, 3.125, 2.75, 3.0, 3.25],
    [3.0, 2.25, 3.75, 1.625, 3.25, 4.875, 2.625, 4.25, 2.0, 3.5, 3.0, 3.125, 2.875, 3.25, 3.0, 2.75],
    [3.25, 2.5, 4.0, 1.75, 3.625, 5.0, 2.75, 4.5, 2.25, 3.875, 3.25, 3.375, 3.125, 3.5, 3.25, 3.0],
    [3.375, 2.625, 4.125, 2.0, 3.75, 4.875, 2.875, 5.5, 2.375, 3.125, 3.375, 3.5, 3.25, 3.625, 3.375, 3.125],
    [3.25, 2.5, 4.0, 1.5, 3.5, 5.25, 2.75, 4.25, 2.0, 5.875, 3.25, 3.125, 3.375, 3.0, 3.25, 2.875],
    [2.75, 2.0, 3.5, 1.375, 3.0, 4.0, 2.25, 3.75, 1.75, 2.5, 2.75, 2.625, 2.875, 2.5, 2.75, 2.375],
    [2.375, 1.75, 3.125, 1.125, 2.625, 3.75, 2.0, 4.5, 1.5, 2.875, 2.375, 2.5, 2.25, 2.625, 2.375, 2.125],
    [2.375, 1.625, 3.125, 1.0, 2.625, 4.25, 2.0, 3.375, 1.375, 2.75, 2.375, 2.25, 2.5, 2.125, 2.375, 2.625],
    [2.25, 1.625, 3.0, 1.125, 2.5, 3.75, 1.875, 4.875, 1.25, 2.75, 2.25, 2.375, 2.125, 2.5, 2.25, 2.0],
    [2.25, 1.5, 3.0, 0.875, 2.5, 3.625, 1.875, 4.5, 1.25, 2.75, 2.375, 2.25, 2.5, 2.125, 2.375, 2.25],
    [2.375, 1.75, 3.125, 1.125, 2.625, 4.125, 2.0, 5.125, 1.5, 3.0, 2.375, 2.5, 2.25, 2.625, 2.375, 2.125],
    [2.375, 1.625, 3.125, 1.0, 2.625, 3.875, 2.0, 5.375, 1.375, 2.75, 2.375, 2.25, 2.5, 2.125, 2.25, 2.0],
    [1.875, 1.25, 2.625, 0.625, 2.125, 3.25, 1.5, 2.5, 1.0, 3.75, 1.875, 1.75, 2.0, 1.625, 1.75, 1.5],
    [1.5, 1.0, 2.25, 0.375, 1.75, 2.875, 1.25, 3.5, 0.75, 2.0, 1.5, 1.375, 1.625, 1.25, 1.5, 1.75],
    [1.625, 1.0, 2.375, 0.5, 1.875, 3.125, 1.25, 2.625, 0.75, 4.0, 1.625, 1.5, 1.75, 1.375, 1.625, 1.875],
    [1.625, 1.125, 2.375, 0.5, 1.875, 3.0, 1.375, 3.625, 0.875, 2.125, 1.625, 1.75, 1.5, 1.875, 1.625, 1.375],
    [1.625, 1.0, 2.25, 0.625, 1.875, 2.875, 1.25, 4.125, 0.875, 2.5, 1.625, 1.5, 1.75, 1.375, 1.625, 1.875],
    [1.625, 1.0, 2.25, 0.5, 1.875, 3.0, 1.25, 2.625, 0.75, 3.625, 1.625, 1.5, 1.75, 1.375, 1.625, 1.875],
    [1.5, 1.0, 2.25, 0.375, 1.75, 2.75, 1.25, 3.25, 0.625, 2.0, 1.625, 1.5, 1.75, 1.375, 1.625, 1.375],
    [1.5, 0.875, 2.125, 0.5, 1.75, 2.875, 1.125, 3.5, 0.75, 2.375, 1.5, 1.625, 1.375, 1.75, 1.5, 1.25],
    [1.375, 0.875, 2.0, 0.25, 1.625, 2.625, 1.125, 3.375, 0.5, 2.25, 1.375, 1.5, 1.25, 1.625, 1.375, 1.125],
    [1.5, 1.0, 2.125, 0.375, 1.75, 2.75, 1.25, 4.125, 0.625, 2.375, 1.5, 1.625, 1.375, 1.75, 1.5, 1.875],
    [1.625, 1.0, 2.25, 0.5, 1.875, 2.875, 1.25, 3.75, 0.75, 2.5, 1.625, 1.5, 1.75, 1.375, 1.625, 1.25],
    [1.25, 0.75, 1.875, 0.25, 1.5, 2.5, 1.0, 3.25, 0.5, 2.125, 1.25, 1.375, 1.125, 1.5, 1.25, 1.0],
    [1.0, 0.625, 1.5, 0.125, 1.25, 2.25, 0.75, 2.75, 0.375, 1.75, 1.0, 0.875, 1.125, 0.75, 1.0, 1.25],
    [1.0, 0.5, 1.5, 0.25, 1.25, 2.125, 0.75, 1.75, 0.375, 2.625, 1.0, 1.125, 0.875, 1.25, 1.0, 0.75],
    [1.125, 0.625, 1.625, 0.25, 1.375, 2.25, 0.875, 2.875, 0.5, 1.875, 1.125, 1.0, 1.25, 0.875, 1.125, 1.375],
    [1.0, 0.5, 1.5, 0.125, 1.25, 2.0, 0.75, 2.5, 0.375, 1.75, 1.0, 0.875, 1.125, 0.75, 1.0, 1.25],
    [0.75, 0.375, 1.125, 0.125, 0.875, 1.625, 0.5, 2.25, 0.25, 1.375, 0.75, 0.625, 0.875, 0.5, 0.75, 1.0],
    [1.0, 0.5, 1.5, 0.125, 1.25, 2.125, 0.75, 3.5, 0.375, 1.875, 0.875, 1.0, 1.25, 1.375, 1.125, 1.5],
    [1.5, 1.0, 2.125, 0.375, 1.75, 2.75, 1.25, 4.375, 0.625, 2.375, 1.5, 1.625, 1.375, 1.75, 1.5, 1.25],
    [1.375, 0.875, 2.0, 0.375, 1.625, 2.625, 1.125, 3.25, 0.625, 2.25, 1.375, 1.25, 1.5, 1.125, 1.375, 1.625],
    [1.125, 0.625, 1.625, 0.25, 1.375, 2.375, 0.875, 3.0, 0.5, 1.875, 1.125, 1.0, 1.25, 0.875, 1.125, 1.375],
    [1.125, 0.75, 1.75, 0.25, 1.375, 2.5, 1.0, 3.125, 0.5, 2.0, 1.125, 1.25, 1.375, 1.5, 1.25, 1.0],
    [1.625, 1.125, 2.375, 0.5, 1.875, 3.0, 1.375, 4.125, 0.75, 2.625, 1.625, 1.75, 1.5, 1.875, 1.625, 1.375],
    [1.75, 1.125, 2.375, 0.625, 2.0, 3.25, 1.375, 3.875, 0.875, 2.625, 1.75, 1.625, 1.875, 1.5, 1.75, 2.0],
    [1.25, 0.75, 1.875, 0.25, 1.5, 2.5, 1.0, 3.375, 0.5, 2.125, 1.25, 1.125, 1.375, 1.0, 1.25, 1.5],
    [1.5, 0.875, 2.125, 0.375, 1.75, 2.875, 1.125, 5.125, 0.625, 2.375, 1.25, 1.5, 1.625, 1.75, 1.5, 1.875],
    [2.0, 1.375, 2.625, 0.75, 2.25, 3.375, 1.625, 4.125, 1.0, 2.875, 2.0, 1.875, 2.125, 1.75, 2.0, 2.25],
    [1.875, 1.25, 2.5, 0.625, 2.125, 3.25, 1.5, 5.25, 1.0, 2.75, 1.875, 1.75, 2.0, 1.625, 1.875, 2.125],
    [1.25, 0.75, 1.875, 0.25, 1.5, 2.625, 1.0, 3.5, 0.5, 2.125, 1.25, 1.375, 1.125, 1.5, 1.25, 1.0],
    [1.25, 0.75, 1.875, 0.25, 1.5, 2.5, 1.0, 3.125, 0.5, 2.0, 1.125, 1.25, 1.375, 1.5, 1.25, 1.625],
    [1.875, 1.25, 2.5, 0.625, 2.125, 3.25, 1.5, 4.0, 1.0, 2.75, 1.875, 2.0, 1.75, 2.125, 1.875, 1.625],
    [1.75, 1.125, 2.375, 0.5, 2.0, 3.0, 1.375, 5.0, 0.75, 2.5, 1.75, 1.625, 1.5, 1.875, 1.625, 1.375],
    [1.375, 0.875, 2.0, 0.375, 1.625, 2.75, 1.125, 3.5, 0.625, 2.25, 1.375, 1.25, 1.5, 1.125, 1.375, 1.625],
    [1.625, 1.0, 2.25, 0.5, 1.875, 3.0, 1.25, 4.375, 0.75, 2.5, 1.5, 1.625, 1.75, 1.375, 1.625, 1.875],
    [1.625, 1.125, 2.375, 0.5, 1.875, 3.125, 1.375, 3.875, 0.875, 2.625, 1.75, 1.625, 1.875, 1.5, 1.75, 2.0],
    [1.75, 1.125, 2.375, 0.625, 2.0, 3.25, 1.375, 4.625, 0.875, 2.625, 1.75, 1.625, 1.875, 1.5, 1.75, 2.0],
    [2.25, 1.625, 2.875, 1.0, 2.5, 3.625, 1.875, 4.375, 1.25, 3.125, 2.25, 2.125, 2.375, 2.0, 2.25, 2.5],
]

# Smoothed kp
kp_epoch = [
    1994.0, 1994.15, 1994.25, 1994.4, 1994.55, 1994.7, 1994.9, 1995.1, 1995.3, 1995.5,
    1995.7, 1995.9, 1996.0, 1996.15, 1996.35, 1996.6, 1996.8, 1997.0, 1997.15, 1997.4,
    1997.6, 1997.8, 1997.95, 1998.1, 1998.3, 1998.5, 1998.65, 1998.85, 1999.05, 1999.3,
    1999.5, 1999.7, 1999.9, 2000.05, 2000.3, 2000.55, 2000.7, 2000.9, 2001.05, 2001.2,
    2001.4, 2001.55, 2001.75, 2001.9, 2002.05, 2002.2, 2002.45, 2002.7, 2002.95, 2003.2,
    2003.4, 2003.55, 2003.81, 2004.0, 2004.15, 2004.3, 2004.44, 2004.66, 2004.81, 2005.03,
    2005.25, 2005.48, 2005.62, 2005.85, 2006.07, 2006.21, 2006.44, 2006.73, 2006.95, 2007.18,
    2007.47, 2007.69, 2007.87, 2008.02, 2008.2, 2008.35, 2008.57, 2008.8, 2008.98, 2009.17,
    2009.39, 2009.54, 2009.72, 2009.9, 2009.98, 2010.13, 2010.35, 2010.5, 2010.68, 2010.9,
    2011.05, 2011.27, 2011.49, 2011.68, 2011.86, 2012.01, 2012.2, 2012.45, 2012.64, 2012.83,
    2012.94, 2013.08, 2013.31, 2013.53, 2013.71, 2013.9, 2014.0, 2014.18, 2014.37, 2014.55,
    2014.73, 2014.92, 2015.03,
]
kp_smooth = [
    2.95, 3.14, 3.15, 3.0, 2.68, 2.48, 2.38, 2.36, 2.4, 2.32,
    2.16, 2.0, 1.9, 1.95, 2.03, 2.04, 1.92, 1.8, 1.79, 1.84,
    1.84, 1.77, 1.69, 1.8, 2.28, 2.44, 2.44, 2.24, 2.12, 2.2,
    2.36, 2.55, 2.44, 2.4, 2.6, 2.83, 2.76, 2.45, 2.22, 2.24,
    2.48, 2.58, 2.48, 2.28, 2.18, 2.28, 2.68, 2.91, 2.98, 3.03,
    3.35, 3.4, 3.33, 3.03, 2.72, 2.45, 2.38, 2.34, 2.3, 2.32,
    2.32, 2.45, 2.4, 1.96, 1.45, 1.53, 1.66, 1.65, 1.65, 1.58,
    1.61, 1.51, 1.39, 1.49, 1.73, 1.71, 1.39, 1.05, 0.91, 1.01,
    1.13, 1.13, 0.86, 0.63, 0.66, 1.01, 1.53, 1.58, 1.33, 1.05,
    1.09, 1.57, 1.8, 1.57, 1.21, 1.13, 1.84, 2.0, 1.8, 1.37,
    1.09, 1.08, 1.8, 2.04, 1.53, 1.29, 1.37, 1.71, 1.71, 1.61,
    1.96, 2.3, 2.24,
]

# Solar activity periods highlighted in every panel
period_names = ["high", "low"]
period_start = [2001.78, 2007.76]
period_end = [2002.12, 2008.10]

# ---------------------------------------------------------------------------
# Figure
# ---------------------------------------------------------------------------
W, H = 1085, 1176
LEFT = 88
FONT = "Liberation Sans, Arial, Helvetica, sans-serif"
SERIF = "Liberation Serif, Times New Roman, serif"
TXT = "#111111"
DOT = "#a3a3a3"


def px(x):
    return (x - LEFT) / (W - LEFT)


def py(y):
    return 1 - y / H


def daily_points(blocks):
    xs, ys = [], []
    for q, vals in enumerate(blocks):
        n = len(vals)
        for j, v in enumerate(vals):
            xs.append(EPOCH_START + BLOCK * q + BLOCK * (SLOT_ORDER[j] + 0.5) / n)
            ys.append(v)
    return xs, ys


fig = go.Figure()

panels = [
    # (axis suffix, daily blocks, smooth x, smooth y, line width, y range, dtick, top/bottom px)
    ("", density_daily, density_epoch, density_smooth, 1.4, [0, 50], 10, (15.7, 272.3)),
    ("2", f107_daily, f107_epoch, f107_smooth, 2.4, [0, 300], 50, (414.7, 668.3)),
    ("3", kp_daily, kp_epoch, kp_smooth, 2.2, [0, 6], 1, (814.0, 1067.0)),
]

for suffix, blocks, sx, sy, lw, yr, dt, (top, bot) in panels:
    xa, ya = "x" + suffix, "y" + suffix
    dx, dy = daily_points(blocks)
    fig.add_trace(go.Scatter(
        x=dx, y=dy, mode="markers", xaxis=xa, yaxis=ya, showlegend=False,
        marker=dict(size=3.4, color=DOT, line=dict(width=0)), hoverinfo="skip",
    ))
    if suffix == "2":
        fig.add_trace(go.Scatter(
            x=sunspot_epoch, y=sunspot_count, mode="lines", xaxis=xa, yaxis=ya,
            showlegend=False, line=dict(color="#ff4040", width=2.2),
        ))
    fig.add_trace(go.Scatter(
        x=sx, y=sy, mode="lines", xaxis=xa, yaxis=ya, showlegend=False,
        line=dict(color="#000000", width=lw, shape="spline", smoothing=0.7),
    ))

    axis_common = dict(
        showline=True, linecolor="#333333", linewidth=1.5, mirror=True,
        showgrid=True, gridcolor="#c4c4c4", griddash="dot", gridwidth=1,
        zeroline=False, ticks="inside", tickcolor="#1a1a1a", tickwidth=1.2,
        layer="above traces",
        tickfont=dict(family=FONT, size=18.5, color=TXT),
    )
    fig.update_layout(**{
        "xaxis" + suffix: dict(
            axis_common, range=[EPOCH_START, EPOCH_END], domain=[0, 1],
            anchor=ya, tickmode="linear", tick0=EPOCH_START, dtick=2, ticklen=12,
            ticklabelstandoff=4,
            minor=dict(tickmode="linear", tick0=EPOCH_START, dtick=BLOCK,
                       ticks="inside", ticklen=6, tickwidth=1,
                       tickcolor="#1a1a1a", showgrid=False),
        ),
        "yaxis" + suffix: dict(
            axis_common, range=yr, dtick=dt, tick0=0, anchor=xa, ticklen=11,
            ticklabelstandoff=6,
            domain=[py(bot), py(top)],
        ),
    })

    # shaded solar activity periods with their names
    for name, t0, t1 in zip(period_names, period_start, period_end):
        fig.add_shape(type="rect", xref=xa, yref=ya + " domain", x0=t0, x1=t1,
                      y0=0, y1=1, fillcolor="#d9d9d9", line=dict(width=0),
                      layer="below")
        fig.add_annotation(text=name, xref=xa, yref=ya + " domain", x=t0, y=1,
                           xanchor="left", yanchor="top", showarrow=False,
                           xshift=-2, yshift=1,
                           font=dict(family=FONT, size=18.5, color=TXT))

    # x axis title
    fig.add_annotation(text="Epoch [year]", xref="paper", yref="paper",
                       x=px(586), y=py(bot + 49), xanchor="center", yanchor="middle",
                       showarrow=False, font=dict(family=FONT, size=18.5, color=TXT))

# y axis titles
y_titles = ["Density [1E\u221213 kg/m<sup>3</sup>]", "Count", "kp"]
for panel, title, xc in zip(panels, y_titles, [27, 25, 26]):
    top, bot = panel[-1]
    fig.add_annotation(text=title, xref="paper", yref="paper", x=px(xc),
                       y=py((top + bot) / 2), xanchor="center", yanchor="middle",
                       textangle=-90, showarrow=False,
                       font=dict(family=FONT, size=18.5, color=TXT))

# panel captions
for cap, yc in zip(["(a)", "(b)", "(c)"], [368, 764, 1163]):
    fig.add_annotation(text=cap, xref="paper", yref="paper", x=px(572), y=py(yc),
                       xanchor="center", yanchor="middle", showarrow=False,
                       font=dict(family=SERIF, size=17, color=TXT))

# legend of panel (b): label followed by its line sample
fig.add_annotation(text="F<sub>10.7</sub> [sfu]", xref="paper", yref="paper",
                   x=px(96), y=py(401), xanchor="left", yanchor="middle",
                   showarrow=False, font=dict(family=FONT, size=18.5, color=TXT))
fig.add_shape(type="line", xref="paper", yref="paper", x0=px(195), x1=px(215),
              y0=py(403), y1=py(403), line=dict(color="#000000", width=2.4))
fig.add_annotation(text="Sunspots", xref="paper", yref="paper",
                   x=px(263), y=py(402), xanchor="left", yanchor="middle",
                   showarrow=False, font=dict(family=FONT, size=18.5, color=TXT))
fig.add_shape(type="line", xref="paper", yref="paper", x0=px(358), x1=px(378),
              y0=py(403), y1=py(403), line=dict(color="#ff4040", width=2.2))

fig.update_layout(
    width=W, height=H,
    margin=dict(l=LEFT, r=0, t=0, b=0, autoexpand=False),
    paper_bgcolor="white", plot_bgcolor="white",
    showlegend=False,
    font=dict(family=FONT, color=TXT),
)

fig.write_html("out.html")
